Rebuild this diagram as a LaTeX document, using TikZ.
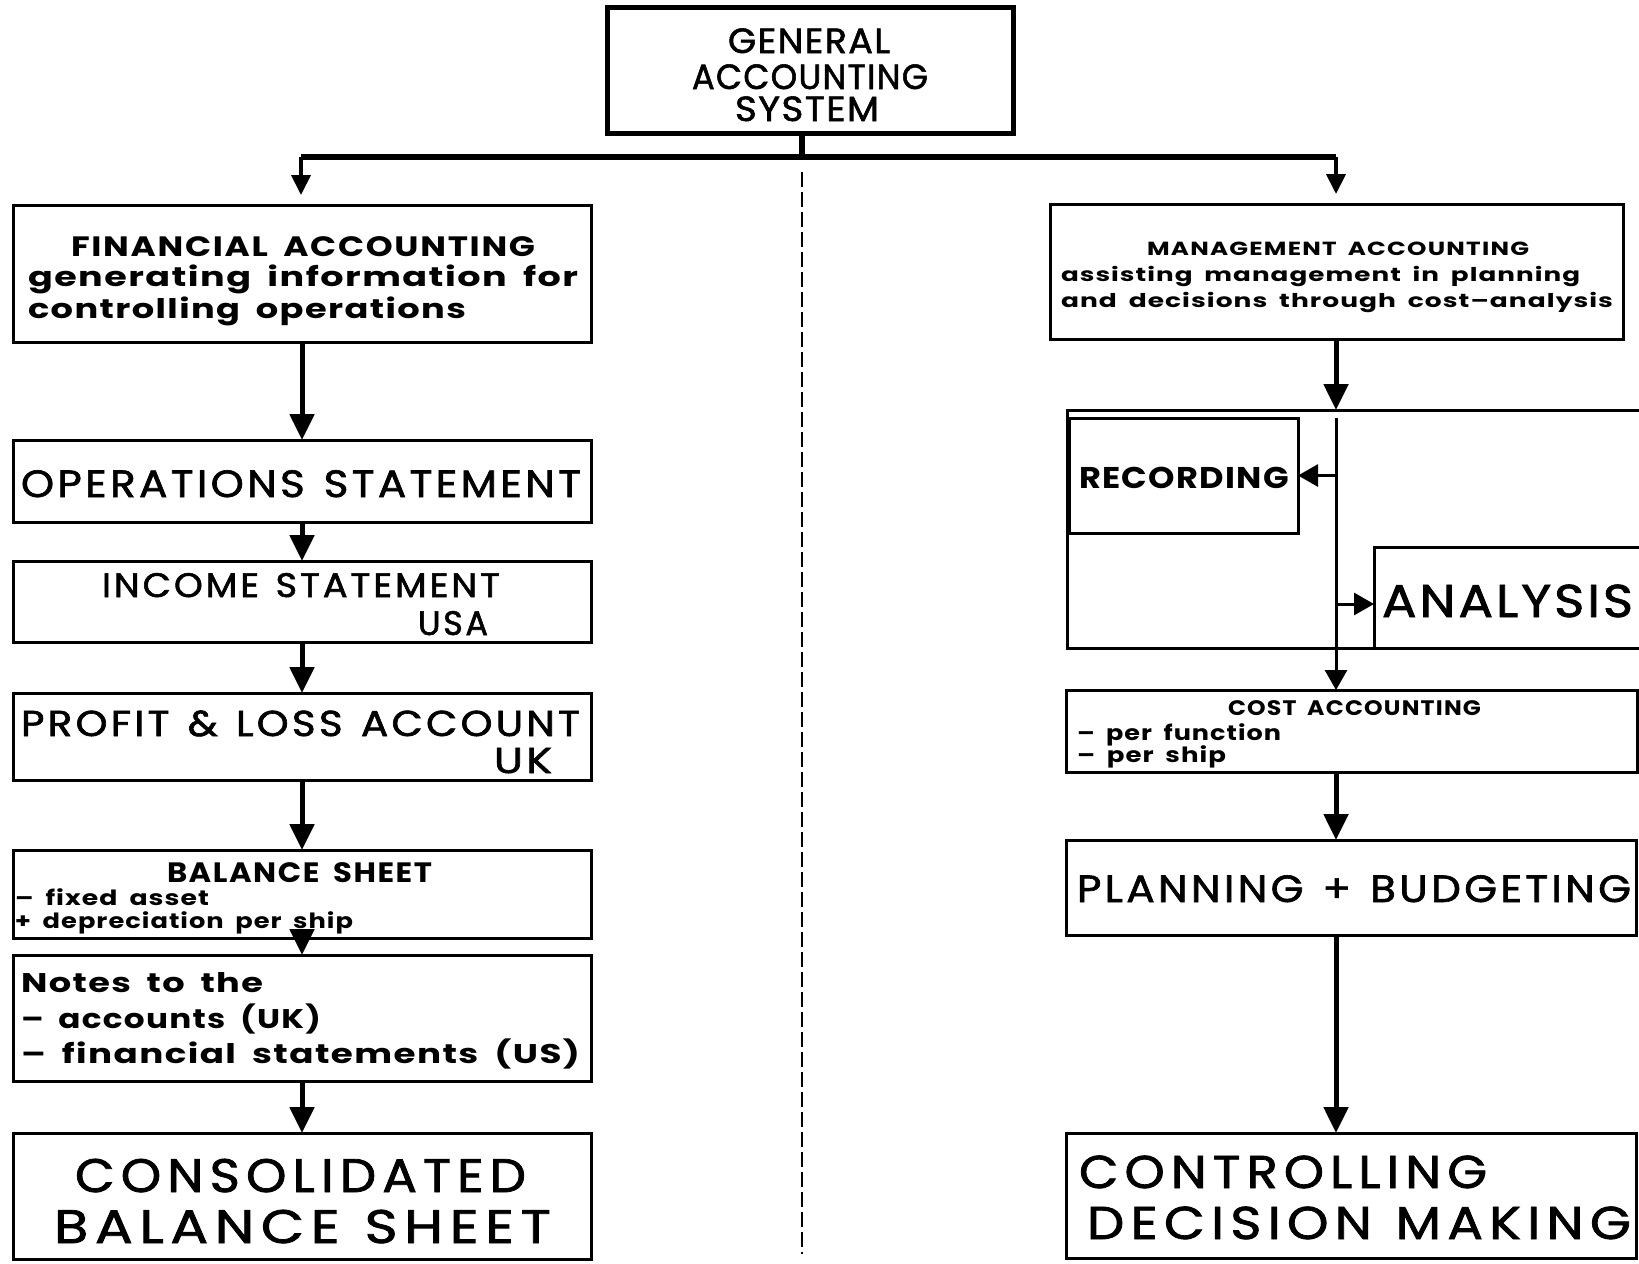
\documentclass[tikz,border=0pt]{standalone}
\usepackage{fontspec}
\usepackage{graphicx}
\setmainfont{Poppins}
\usetikzlibrary{arrows.meta}

% one line of text: size, target width, letter spacing, text
\newcommand\Ln[4]{\resizebox{#2pt}{\height}{\fontsize{#1}{#1}\selectfont\addfontfeature{LetterSpace=#3,FakeBold=1.6}#4}}
\newcommand\Lb[4]{\resizebox{#2pt}{\height}{\fontsize{#1}{#1}\selectfont\bfseries\addfontfeature{LetterSpace=#3}#4}}
% wide gap between words
\newcommand\W{\hspace{0.45em}}

\tikzset{
  box/.style={draw, line width=3pt, inner sep=0pt, outer sep=0pt, anchor=north west},
  txt/.style={anchor=base west, inner sep=0pt, outer sep=0pt},
  arr/.style={line width=5pt, -{Triangle[length=26pt, width=24pt]}},
  smallarr/.style={line width=4pt, -{Triangle[length=20pt, width=19pt]}},
  thinarr/.style={line width=3pt, -{Triangle[length=20pt, width=22pt]}},
  divider/.style={line width=2.4pt, dash pattern=on 15pt off 5pt},
}

\begin{document}
\begin{tikzpicture}[x=1pt, y=-1pt]
\useasboundingbox (0,0) rectangle (1639,1264);
\fill[white] (0,0) rectangle (1639,1264);
\clip (0,0) rectangle (1639,1264);

% ---------- top ----------
\node[box, line width=5pt, minimum width=406pt, minimum height=126pt] (gas) at (607,7) {};
\node[txt] (gas1) at (728,53)  {\Ln{35}{162}{4}{GENERAL}};
\node[txt] (gas2) at (692,89)  {\Ln{35}{236}{4}{ACCOUNTING}};
\node[txt] (gas3) at (735,121) {\Ln{35}{144}{4}{SYSTEM}};

\coordinate (barL) at (301,157);
\coordinate (barM) at (802,157);
\coordinate (barR) at (1336,157);
\draw[line width=6.5pt] (barM |- gas.south) -- (barM);
\draw[line width=6.5pt] (barL) -- (barR);

% dashed divider between the two branches
\coordinate (dtop) at (802,172);
\coordinate (dbot) at (802,1254);
\draw[divider] (dtop) -- (dbot);

% ---------- left branch ----------
\node[box, minimum width=578pt, minimum height=137pt] (fa) at (13,205) {};
\node[txt] (fa1) at (71,256) {\Lb{28}{464}{5}{FINANCIAL\W ACCOUNTING}};
\node[txt] (fa2) at (28,286) {\Lb{27}{550}{4}{generating\W information\W for}};
\node[txt] (fa3) at (28,318) {\Lb{27}{438}{4}{controlling\W operations}};

\node[box, minimum width=578pt, minimum height=82pt] (ops) at (13,440) {};
\node[txt] (ops1) at (21,497) {\Ln{38}{560}{8}{OPERATIONS\W STATEMENT}};

\node[box, minimum width=578pt, minimum height=81pt] (inc) at (13,561) {};
\node[txt] (inc1) at (102,597) {\Ln{34}{398}{8}{INCOME\W STATEMENT}};
\node[txt] (inc2) at (418,635) {\Ln{34}{70}{8}{USA}};

\node[box, minimum width=578pt, minimum height=87pt] (pl) at (13,693) {};
\node[txt] (pl1) at (21,736) {\Ln{36}{559}{8}{PROFIT\W \&\W LOSS\W ACCOUNT}};
\node[txt] (pl2) at (494,773) {\Ln{36}{58}{8}{UK}};

\node[box, minimum width=578pt, minimum height=88pt] (bs) at (13,850) {};
\node[txt] (bs1) at (167,882) {\Lb{28}{265}{5}{BALANCE\W SHEET}};
\node[txt] (bs2) at (15,905)  {\Lb{21}{194}{4}{–\W fixed\W asset}};
\node[txt] (bs3) at (15,928)  {\Lb{21}{338}{4}{+\W depreciation\W per\W ship}};

\node[box, minimum width=578pt, minimum height=126pt] (notes) at (13,955) {};
\node[txt] (nt1) at (21,992)  {\Lb{27}{242}{4}{Notes\W to\W the}};
\node[txt] (nt2) at (21,1028) {\Lb{27}{300}{4}{–\W accounts\W (UK)}};
\node[txt] (nt3) at (21,1063) {\Lb{27}{559}{4}{–\W financial\W statements\W (US)}};

\node[box, minimum width=578pt, minimum height=126pt] (cons) at (13,1133) {};
\node[txt] (cons1) at (75,1192) {\Ln{47}{451}{12}{CONSOLIDATED}};
\node[txt] (cons2) at (54,1243) {\Ln{47}{497}{12}{BALANCE\W SHEET}};

\draw[smallarr, shorten >=10pt] (barL) -- (fa.north -| barL);
\draw[arr] (fa.south) -- (ops.north);
\draw[arr] (ops.south) -- (inc.north);
\draw[arr] (inc.south) -- (pl.north);
\draw[arr] (pl.south) -- (bs.north);
\draw[arr] (bs.south) -- (notes.north);
\draw[arr] (notes.south) -- (cons.north);

% ---------- right branch ----------
\node[box, minimum width=573pt, minimum height=135pt] (ma) at (1050,204) {};
\node[txt] (ma1) at (1147,255) {\Lb{19}{382}{5}{MANAGEMENT\W ACCOUNTING}};
\node[txt] (ma2) at (1061,281) {\Lb{19}{519}{4}{assisting\W management\W in\W planning}};
\node[txt] (ma3) at (1061,307) {\Lb{19}{552}{4}{and\W decisions\W through\W cost–analysis}};

\node[box, minimum width=600pt, minimum height=238pt] (cont) at (1067,410) {};
\node[box, minimum width=229pt, minimum height=115pt] (rec) at (1069,418) {};
\node[txt] (rec1) at (1079,488) {\Lb{30}{210}{4}{RECORDING}};
\node[box, minimum width=300pt, minimum height=101pt] (ana) at (1374,547) {};
\node[txt] (ana1) at (1382,617) {\Ln{46}{251}{6}{ANALYSIS}};

\node[box, minimum width=571pt, minimum height=82pt] (cost) at (1066,690) {};
\node[txt] (cost1) at (1228,715) {\Lb{21}{253}{5}{COST\W ACCOUNTING}};
\node[txt] (cost2) at (1077,740) {\Lb{21}{204}{4}{–\W per\W function}};
\node[txt] (cost3) at (1077,762) {\Lb{21}{149}{4}{–\W per\W ship}};

\node[box, minimum width=570pt, minimum height=95pt] (plan) at (1066,840) {};
\node[txt] (plan1) at (1077,902) {\Ln{38}{554}{8}{PLANNING\W +\W BUDGETING}};

\node[box, minimum width=570pt, minimum height=125pt] (ctrl) at (1066,1133) {};
\node[txt] (ctrl1) at (1079,1188) {\Ln{46}{408}{12}{CONTROLLING}};
\node[txt] (ctrl2) at (1087,1239) {\Ln{46}{544}{12}{DECISION\W MAKING}};

\draw[smallarr, shorten >=10pt] (barR) -- (ma.north -| barR);
\draw[arr] (ma.south -| barR) -- (cont.north -| barR);

% split line inside the cost-analysis block
\coordinate (sp) at (1336,418);
\coordinate (toana) at (1336,604);
\draw[thinarr] (sp) -- (cost.north -| sp);
\draw[thinarr] (sp |- rec.east) -- (rec.east);
\draw[thinarr] (toana) -- (toana -| ana.west);

\draw[arr] (cost.south -| barR) -- (plan.north -| barR);
\draw[arr] (plan.south -| barR) -- (ctrl.north -| barR);
\end{tikzpicture}
\end{document}
